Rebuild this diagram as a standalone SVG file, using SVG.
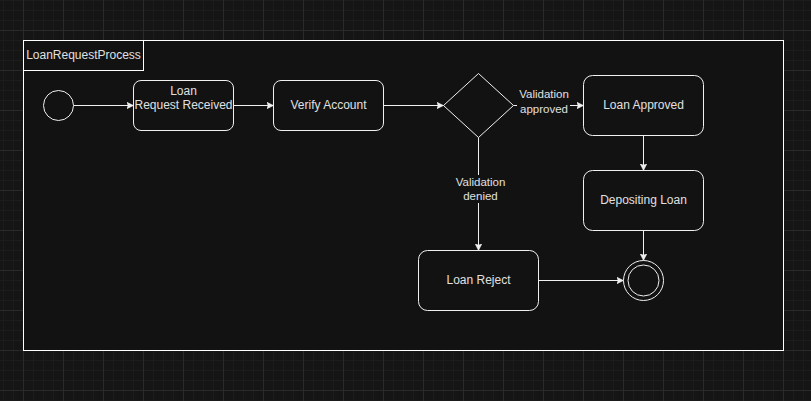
<svg xmlns="http://www.w3.org/2000/svg" width="811" height="401" viewBox="0 0 811 401">
<defs>
<pattern id="grid" x="23" y="30" width="40" height="40" patternUnits="userSpaceOnUse">
<path d="M10.5,0V40M20.5,0V40M30.5,0V40M0,10.5H40M0,20.5H40M0,30.5H40" stroke="#1c1c1c" stroke-width="1" fill="none"/>
<path d="M0.5,0V40M0,0.5H40" stroke="#2a2a2a" stroke-width="1" fill="none"/>
</pattern>
<marker id="arrow" markerUnits="userSpaceOnUse" markerWidth="8" markerHeight="8" refX="7" refY="3.5" orient="auto">
<path d="M0,0 L7,3.5 L0,7 L1.75,3.5 Z" fill="#f0f0f0" stroke="#f0f0f0" stroke-width="0.5"/>
</marker>
</defs>
<style>
.shape{fill:#121212;stroke:#f0f0f0;stroke-width:1}
.edge{fill:none;stroke:#f0f0f0;stroke-width:1;marker-end:url(#arrow)}
.txt{font-family:"Liberation Sans",Arial,sans-serif;font-size:12px;fill:#e0e0e0;text-anchor:middle}
.lbl{font-family:"Liberation Sans",Arial,sans-serif;font-size:11.5px;fill:#e0e0e0;text-anchor:middle}
.lblbg{fill:#121212;stroke:none}
</style>
<rect x="0" y="0" width="811" height="401" fill="#151515"/>
<rect x="0" y="0" width="811" height="401" fill="url(#grid)"/>
<g id="container">
<rect x="23.5" y="40.5" width="760" height="310" fill="#121212" stroke="#ffffff" stroke-width="1"/>
<rect x="23.5" y="40.5" width="120" height="30" fill="none" stroke="#ffffff" stroke-width="1"/>
<text class="txt" x="83.5" y="59">LoanRequestProcess</text>
</g>
<g id="connectors">
<path class="edge" d="M73.5,105.5H133.5"/>
<path class="edge" d="M233.5,105.5H273.5"/>
<path class="edge" d="M383.5,105.5H443.5"/>
<path class="edge" d="M513.5,105.5H583.5"/>
<path class="edge" d="M478.5,137.5V250.5"/>
<path class="edge" d="M643.5,135.5V170.5"/>
<path class="edge" d="M643.5,230.5V260.5"/>
<path class="edge" d="M538.5,280.5H623.5"/>
<g id="label-approved">
<rect class="lblbg" x="517" y="87" width="53" height="30"/>
<text class="lbl" x="544" y="98">Validation</text>
<text class="lbl" x="544" y="112.5">approved</text>
</g>
<g id="label-denied">
<rect class="lblbg" x="453" y="175" width="55" height="28"/>
<text class="lbl" x="480.5" y="185.5">Validation</text>
<text class="lbl" x="480.5" y="200">denied</text>
</g>
</g>
<g id="start">
<circle class="shape" cx="58.5" cy="105.5" r="15"/>
</g>
<g id="loan-request-received">
<rect class="shape" x="133.5" y="80.5" width="100" height="50" rx="7.5"/>
<text class="txt" x="183.5" y="94.5">Loan</text>
<text class="txt" x="183.5" y="108.5">Request Received</text>
</g>
<g id="verify-account">
<rect class="shape" x="273.5" y="80.5" width="110" height="50" rx="7.5"/>
<text class="txt" x="328.5" y="109">Verify Account</text>
</g>
<g id="decision">
<polygon class="shape" points="443.5,105.5 478.5,73.5 513.5,105.5 478.5,137.5"/>
</g>
<g id="loan-approved">
<rect class="shape" x="583.5" y="75.5" width="120" height="60" rx="9"/>
<text class="txt" x="643.5" y="108.5">Loan Approved</text>
</g>
<g id="depositing-loan">
<rect class="shape" x="583.5" y="170.5" width="120" height="60" rx="9"/>
<text class="txt" x="643.5" y="203.5">Depositing Loan</text>
</g>
<g id="loan-reject">
<rect class="shape" x="418.5" y="250.5" width="120" height="60" rx="9"/>
<text class="txt" x="478.5" y="283.5">Loan Reject</text>
</g>
<g id="end">
<circle class="shape" cx="643.5" cy="280.5" r="20"/>
<circle class="shape" cx="643.5" cy="280.5" r="15.5"/>
</g>
</svg>
